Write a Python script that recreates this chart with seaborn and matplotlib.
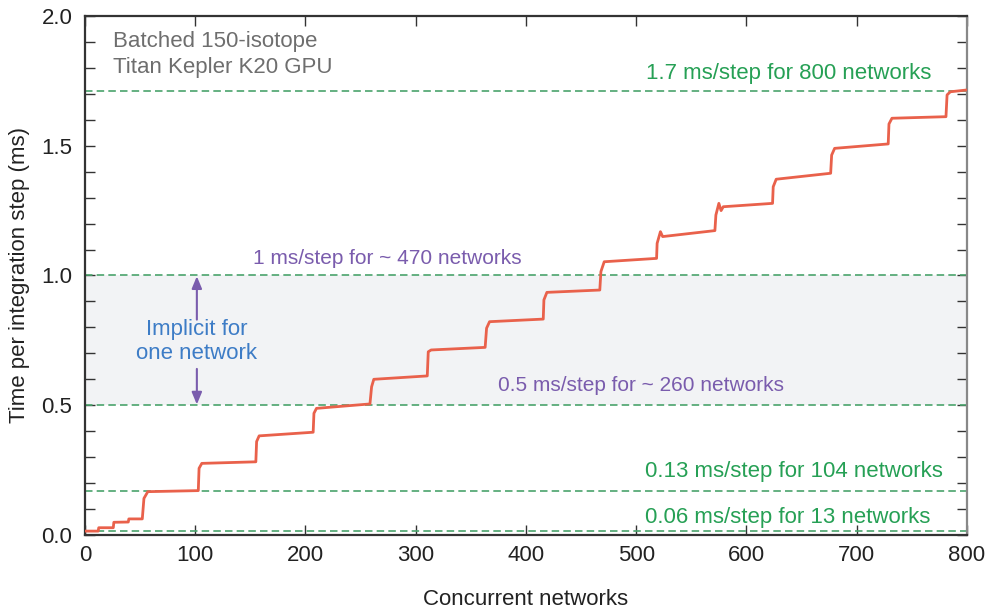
import matplotlib
matplotlib.use("Agg")
import matplotlib.pyplot as plt
import seaborn as sns
import pandas as pd
from matplotlib.ticker import MultipleLocator, FormatStrFormatter

# Measured time per integration step versus number of concurrent networks
networks = [0, 12, 12.5, 25.7, 26.2, 39.3, 39.8, 52, 53.5, 57, 102.8,
            103.5, 106, 155,
            155.7, 158, 207,
            207.7, 210, 258.5,
            260, 262, 310.5,
            311.4, 314, 363,
            364.3, 367, 415.7,
            416.3, 419, 467,
            468, 471, 518.5,
            519, 522, 524, 571.4,
            572.3, 575, 577, 579, 623.7,
            624.3, 627, 676.4,
            677.3, 680, 728.6,
            729.3, 732, 781,
            782, 785, 800]
step_time = [0.015, 0.015, 0.028, 0.028, 0.049, 0.050, 0.062, 0.062, 0.141, 0.167, 0.171,
             0.257, 0.276, 0.282,
             0.360, 0.382, 0.396,
             0.469, 0.488, 0.505,
             0.571, 0.600, 0.613,
             0.706, 0.713, 0.723,
             0.797, 0.822, 0.832,
             0.906, 0.935, 0.944,
             1.015, 1.053, 1.066,
             1.124, 1.169, 1.150, 1.173,
             1.233, 1.278, 1.250, 1.265, 1.278,
             1.342, 1.371, 1.394,
             1.464, 1.490, 1.507,
             1.584, 1.606, 1.612,
             1.696, 1.708, 1.715]

# Reference levels (ms/step) and their captions
ref_levels = [0.017, 0.17, 0.5, 1.0, 1.71]
green_labels = ["0.06 ms/step for 13 networks",
                "0.13 ms/step for 104 networks",
                "1.7 ms/step for 800 networks"]
purple_labels = ["0.5 ms/step for ~ 260 networks",
                 "1 ms/step for ~ 470 networks"]
implicit_band = [0.5, 1.0]

sns.set_theme(style="ticks")
plt.rcParams["font.family"] = ["Liberation Sans", "DejaVu Sans"]

FS = 16
GREEN_LINE = "#4aa36c"
GREEN_TEXT = "#26a055"
PURPLE = "#7a5cad"
BLUE = "#3d7cc6"
RED = "#e9614b"
GREY_TEXT = "#6e6e6e"

fig = plt.figure(figsize=(9.96, 6.11), dpi=100)
ax = fig.add_axes([0.0853, 0.1244, 0.8855, 0.8494])

ax.axhspan(implicit_band[0], implicit_band[1], color="#f2f3f5", zorder=0, lw=0)
for lvl in ref_levels:
    ax.axhline(lvl, color=GREEN_LINE, lw=1.2, ls=(0, (4.5, 2.5)), zorder=1)

df = pd.DataFrame({"networks": networks, "time": step_time})
sns.lineplot(data=df, x="networks", y="time", color=RED, lw=2.0,
             estimator=None, sort=False, ax=ax, zorder=3)

ax.set_xlim(0, 800)
ax.set_ylim(0, 2.0)
ax.xaxis.set_major_locator(MultipleLocator(100))
ax.yaxis.set_major_locator(MultipleLocator(0.5))
ax.yaxis.set_minor_locator(MultipleLocator(0.1))
ax.yaxis.set_major_formatter(FormatStrFormatter("%.1f"))
ax.tick_params(axis="both", which="both", direction="in", top=True, right=True,
               colors="#333333", labelcolor="#222222", labelsize=FS)
ax.tick_params(axis="x", which="major", length=7, width=1.0, pad=7)
ax.tick_params(axis="y", which="major", length=7, width=1.0, pad=9)
ax.tick_params(axis="y", which="minor", length=7, width=1.0)

for side in ["left", "bottom", "top"]:
    ax.spines[side].set_color("#333333")
    ax.spines[side].set_linewidth(1.6)
ax.spines["right"].set_color("#888888")
ax.spines["right"].set_linewidth(1.6)

ax.set_xlabel("Concurrent networks", fontsize=FS, color="#222222", labelpad=17)
ax.set_ylabel("Time per integration step (ms)", fontsize=FS, color="#222222", labelpad=8)

ax.text(25.4, 1.90, "Batched 150-isotope", fontsize=FS, color=GREY_TEXT, ha="left", va="center")
ax.text(25.4, 1.80, "Titan Kepler K20 GPU", fontsize=FS, color=GREY_TEXT, ha="left", va="center")

ax.text(638.5, 1.78, green_labels[2], fontsize=FS, color=GREEN_TEXT, ha="center", va="center")
ax.text(643.5, 0.243, green_labels[1], fontsize=FS, color=GREEN_TEXT, ha="center", va="center")
ax.text(637.6, 0.069, green_labels[0], fontsize=FS, color=GREEN_TEXT, ha="center", va="center")
ax.text(274, 1.067, purple_labels[1], fontsize=15, color=PURPLE, ha="center", va="center")
ax.text(504.8, 0.578, purple_labels[0], fontsize=15, color=PURPLE, ha="center", va="center")

ax.text(101.5, 0.746, "Implicit for\none network", fontsize=FS, color=BLUE,
        ha="center", va="center", linespacing=1.2)
ax.annotate("", xy=(101.5, 0.997), xytext=(101.5, 0.83),
            arrowprops=dict(arrowstyle="-|>,head_length=0.6,head_width=0.25",
                            color=PURPLE, lw=1.5, shrinkA=0, shrinkB=0))
ax.annotate("", xy=(101.5, 0.503), xytext=(101.5, 0.64),
            arrowprops=dict(arrowstyle="-|>,head_length=0.6,head_width=0.25",
                            color=PURPLE, lw=1.5, shrinkA=0, shrinkB=0))

fig.savefig("out.png", dpi=100)
